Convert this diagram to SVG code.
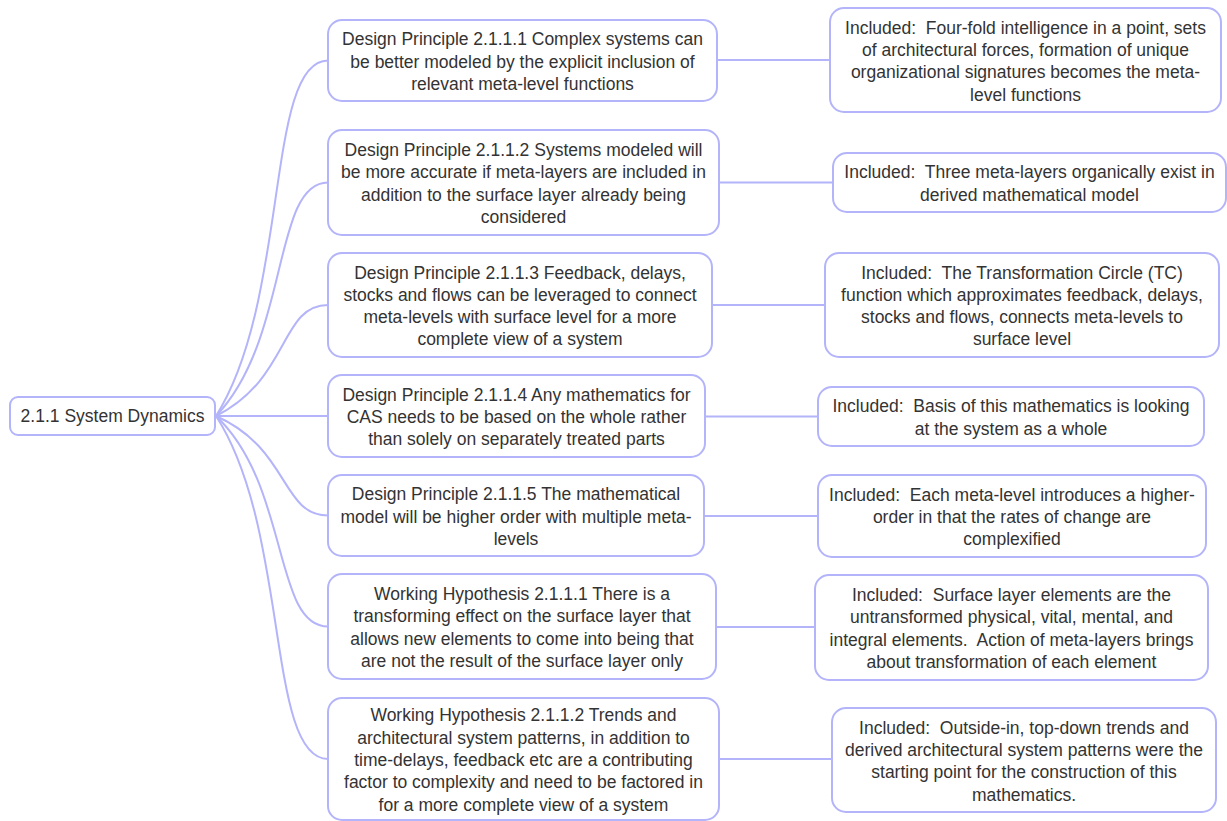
<svg xmlns="http://www.w3.org/2000/svg" width="1227" height="821" viewBox="0 0 1227 821">
<style>
.n{fill:#fff;stroke:#b4b4fa;stroke-width:2}
.e{fill:none;stroke:#b4b4fa;stroke-width:2}
text{font-family:"Liberation Sans",Arial,sans-serif;font-size:17.5px;fill:#333;text-anchor:middle;white-space:pre}
</style>
<rect width="1227" height="821" fill="#fff"/>
<g id="edges">
<path class="e" d="M216 416 C290 299,265 60.5,328 60.5"/>
<path class="e" d="M216 416 C290 339,272 182.5,328 182.5"/>
<path class="e" d="M216 416 C290 379,280 305,328 305"/>
<path class="e" d="M216 416 L328 416"/>
<path class="e" d="M216 416 C290 449,281 515.5,328 515.5"/>
<path class="e" d="M216 416 C290 486,273 626.5,328 626.5"/>
<path class="e" d="M216 416 C290 530,266 759,328 759"/>
<path class="e" d="M717 60 L830 60"/>
<path class="e" d="M719 182.5 L833 182.5"/>
<path class="e" d="M712 305 L825 305"/>
<path class="e" d="M705 416.5 L818 416.5"/>
<path class="e" d="M704 516 L818 516"/>
<path class="e" d="M716 627 L815 627"/>
<path class="e" d="M719 759 L832 759"/>
</g>
<g id="root">
<rect class="n" x="10" y="397" width="205" height="38" rx="8"/>
<text x="112.5" y="422">2.1.1 System Dynamics</text>
</g>
<g id="m1">
<rect class="n" x="328" y="20" width="389" height="81" rx="14"/>
<text x="522.5" y="45.2">Design Principle 2.1.1.1 Complex systems can</text>
<text x="522.5" y="67.5">be better modeled by the explicit inclusion of</text>
<text x="522.5" y="89.8">relevant meta-level functions</text>
</g>
<g id="m2">
<rect class="n" x="328" y="130" width="391" height="105" rx="14"/>
<text x="523.5" y="156">Design Principle 2.1.1.2 Systems modeled will</text>
<text x="523.5" y="178.3">be more accurate if meta-layers are included in</text>
<text x="523.5" y="200.6">addition to the surface layer already being</text>
<text x="523.5" y="223">considered</text>
</g>
<g id="m3">
<rect class="n" x="328" y="253" width="384" height="104" rx="14"/>
<text x="520" y="278.5">Design Principle 2.1.1.3 Feedback, delays,</text>
<text x="520" y="300.8">stocks and flows can be leveraged to connect</text>
<text x="520" y="323.1">meta-levels with surface level for a more</text>
<text x="520" y="345.4">complete view of a system</text>
</g>
<g id="m4">
<rect class="n" x="328" y="375" width="377" height="82" rx="14"/>
<text x="516.5" y="400.7">Design Principle 2.1.1.4 Any mathematics for</text>
<text x="516.5" y="423">CAS needs to be based on the whole rather</text>
<text x="516.5" y="445.3">than solely on separately treated parts</text>
</g>
<g id="m5">
<rect class="n" x="328" y="475" width="376" height="81" rx="14"/>
<text x="516" y="500.2">Design Principle 2.1.1.5 The mathematical</text>
<text x="516" y="522.5">model will be higher order with multiple meta-</text>
<text x="516" y="544.8">levels</text>
</g>
<g id="m6">
<rect class="n" x="328" y="574" width="388" height="105" rx="14"/>
<text x="522" y="600">Working Hypothesis 2.1.1.1 There is a</text>
<text x="522" y="622.3">transforming effect on the surface layer that</text>
<text x="522" y="644.6">allows new elements to come into being that</text>
<text x="522" y="667">are not the result of the surface layer only</text>
</g>
<g id="m7">
<rect class="n" x="328" y="698" width="391" height="122" rx="14"/>
<text x="523.5" y="721.4">Working Hypothesis 2.1.1.2 Trends and</text>
<text x="523.5" y="743.7">architectural system patterns, in addition to</text>
<text x="523.5" y="766">time-delays, feedback etc are a contributing</text>
<text x="523.5" y="788.3">factor to complexity and need to be factored in</text>
<text x="523.5" y="810.6">for a more complete view of a system</text>
</g>
<g id="r1">
<rect class="n" x="830" y="8" width="391" height="104" rx="14"/>
<text x="1025.5" y="33.5">Included:  Four-fold intelligence in a point, sets</text>
<text x="1025.5" y="55.8">of architectural forces, formation of unique</text>
<text x="1025.5" y="78.1">organizational signatures becomes the meta-</text>
<text x="1025.5" y="100.5">level functions</text>
</g>
<g id="r2">
<rect class="n" x="833" y="153" width="393" height="59" rx="14"/>
<text x="1029.5" y="178.3">Included:  Three meta-layers organically exist in</text>
<text x="1029.5" y="200.6">derived mathematical model</text>
</g>
<g id="r3">
<rect class="n" x="825" y="253" width="394" height="104" rx="14"/>
<text x="1022" y="278.5">Included:  The Transformation Circle (TC)</text>
<text x="1022" y="300.8">function which approximates feedback, delays,</text>
<text x="1022" y="323.1">stocks and flows, connects meta-levels to</text>
<text x="1022" y="345.4">surface level</text>
</g>
<g id="r4">
<rect class="n" x="818" y="387" width="386" height="59" rx="14"/>
<text x="1011" y="412.3">Included:  Basis of this mathematics is looking</text>
<text x="1011" y="434.6">at the system as a whole</text>
</g>
<g id="r5">
<rect class="n" x="818" y="475" width="388" height="82" rx="14"/>
<text x="1012" y="500.7">Included:  Each meta-level introduces a higher-</text>
<text x="1012" y="523">order in that the rates of change are</text>
<text x="1012" y="545.3">complexified</text>
</g>
<g id="r6">
<rect class="n" x="815" y="575" width="393" height="105" rx="14"/>
<text x="1011.5" y="601">Included:  Surface layer elements are the</text>
<text x="1011.5" y="623.3">untransformed physical, vital, mental, and</text>
<text x="1011.5" y="645.6">integral elements.  Action of meta-layers brings</text>
<text x="1011.5" y="668">about transformation of each element</text>
</g>
<g id="r7">
<rect class="n" x="832" y="708" width="384" height="104" rx="14"/>
<text x="1024" y="733.5">Included:  Outside-in, top-down trends and</text>
<text x="1024" y="755.8">derived architectural system patterns were the</text>
<text x="1024" y="778.1">starting point for the construction of this</text>
<text x="1024" y="800.5">mathematics.</text>
</g>
</svg>
